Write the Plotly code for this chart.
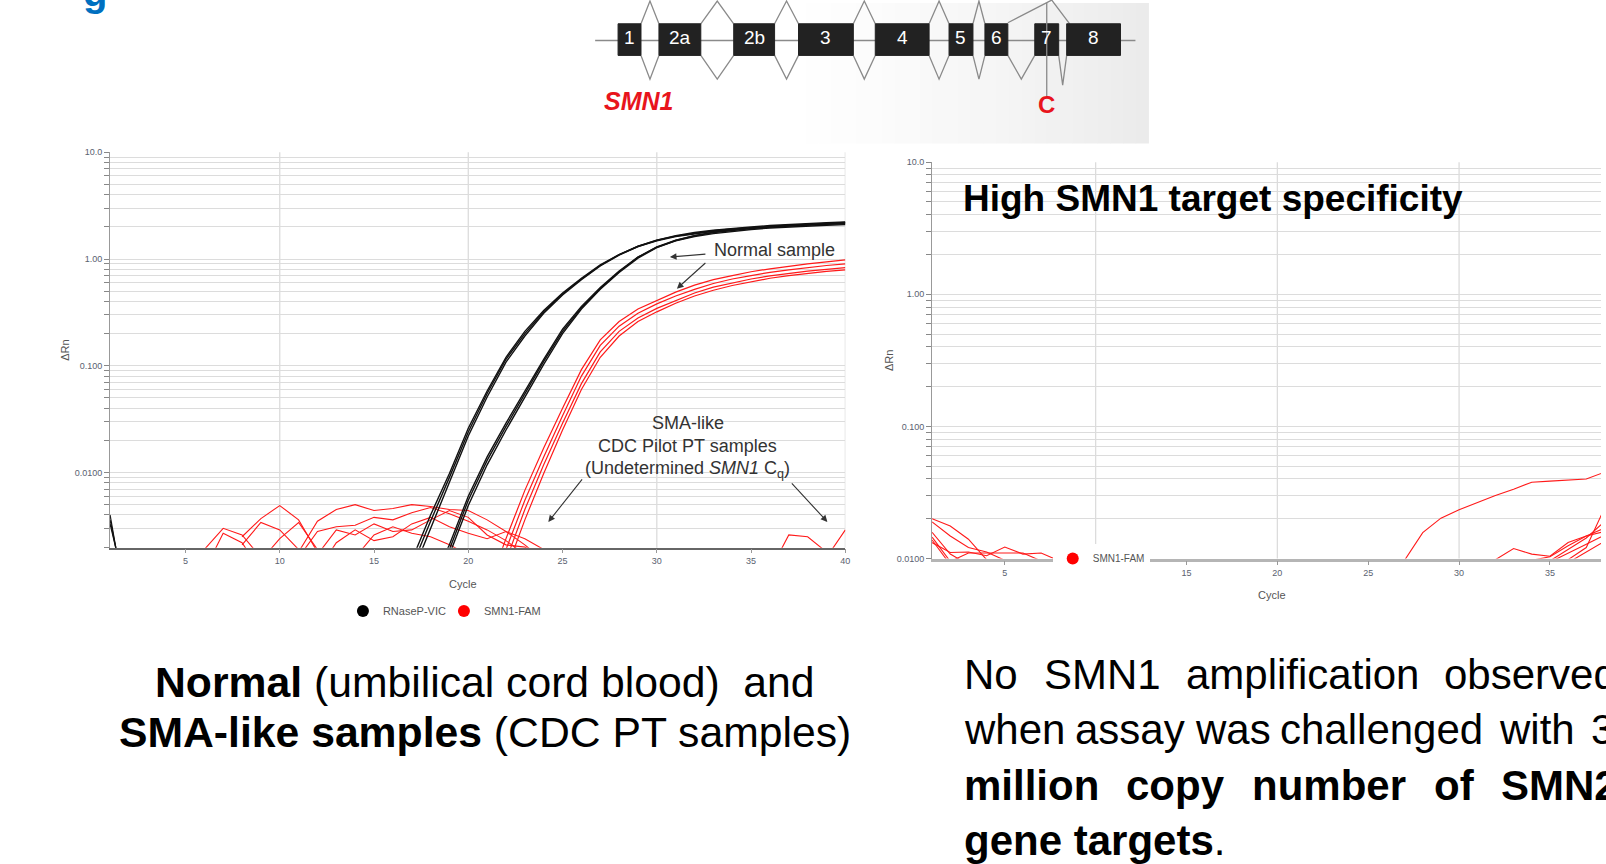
import plotly.graph_objects as go

W, H = 1606, 864
def PX(x): return x / W
def PY(y): return 1 - y / H

FONT = "Arial, Liberation Sans, sans-serif"

# ---------------- data ----------------
CYCLES = list(range(1, 41))

# RNaseP-VIC (black) – left panel, (start cycle, values)
RNASEP_EARLY = [(1, [0.0040, 0.0004]), (1, [0.0036, 0.0005]), (1, [0.0033, 0.0006])]
RNASEP_A1 = (17, [0.0013, 0.0035, 0.009, 0.024, 0.055, 0.115, 0.2, 0.32, 0.47, 0.65, 0.87, 1.1, 1.32, 1.5, 1.64, 1.75, 1.84, 1.91, 1.97, 2.02, 2.07, 2.11, 2.15, 2.19])
RNASEP_A2 = (17, [0.0011, 0.003, 0.0082, 0.022, 0.051, 0.108, 0.19, 0.31, 0.46, 0.64, 0.86, 1.09, 1.31, 1.5, 1.65, 1.77, 1.86, 1.94, 2.0, 2.06, 2.11, 2.15, 2.19, 2.23])
RNASEP_A3 = (17, [0.0015, 0.004, 0.0098, 0.026, 0.058, 0.12, 0.21, 0.33, 0.48, 0.66, 0.88, 1.1, 1.31, 1.48, 1.62, 1.73, 1.82, 1.89, 1.95, 2.0, 2.05, 2.09, 2.13, 2.17])
RNASEP_B1 = (18, [0.0008, 0.0019, 0.0055, 0.013, 0.027, 0.055, 0.11, 0.21, 0.35, 0.53, 0.76, 1.04, 1.3, 1.5, 1.65, 1.77, 1.86, 1.93, 1.99, 2.04, 2.08, 2.11, 2.14])
RNASEP_B2 = (18, [0.0007, 0.0017, 0.0049, 0.0118, 0.025, 0.051, 0.103, 0.2, 0.34, 0.52, 0.75, 1.02, 1.28, 1.49, 1.65, 1.78, 1.88, 1.96, 2.02, 2.07, 2.12, 2.16, 2.2])
RNASEP_B3 = (18, [0.0009, 0.0021, 0.006, 0.014, 0.029, 0.058, 0.115, 0.22, 0.36, 0.54, 0.77, 1.04, 1.29, 1.48, 1.62, 1.73, 1.82, 1.89, 1.95, 2.0, 2.04, 2.07, 2.1])

# SMN1-FAM (red) – left panel amplification
SMN1_AMP = [
    (21, [0.0008, 0.0024, 0.0068, 0.017, 0.04, 0.092, 0.175, 0.26, 0.34, 0.41, 0.49, 0.57, 0.64, 0.7, 0.76, 0.81, 0.86, 0.9, 0.94, 0.98]),
    (21, [0.0006, 0.0019, 0.0055, 0.014, 0.034, 0.08, 0.155, 0.235, 0.31, 0.38, 0.45, 0.52, 0.59, 0.65, 0.7, 0.75, 0.79, 0.83, 0.87, 0.9]),
    (21, [0.0005, 0.0015, 0.0045, 0.0118, 0.029, 0.068, 0.135, 0.21, 0.28, 0.345, 0.41, 0.48, 0.545, 0.6, 0.65, 0.695, 0.735, 0.77, 0.8, 0.83]),
    (21, [0.0004, 0.0012, 0.0036, 0.0098, 0.025, 0.06, 0.12, 0.19, 0.26, 0.32, 0.385, 0.45, 0.51, 0.565, 0.615, 0.66, 0.7, 0.735, 0.765, 0.79]),
]
# SMN1-FAM (red) – left panel baseline noise
SMN1_NOISE = [
    (6, [0.0019, 0.003, 0.0026, 0.0016]),
    (6, [0.0012, 0.0027, 0.0022, 0.0012]),
    (8, [0.0025, 0.0037, 0.0049, 0.0036, 0.0018]),
    (8, [0.0021, 0.0034, 0.0029, 0.0019]),
    (9, [0.0015, 0.0024, 0.0034, 0.0019]),
    (11, [0.0018, 0.0035, 0.0045, 0.005, 0.0044, 0.0046, 0.005, 0.0048, 0.0045, 0.0044, 0.0036, 0.0028, 0.0024, 0.0019]),
    (11, [0.0016, 0.0028, 0.0031, 0.0032, 0.0038, 0.0036, 0.0042, 0.0047, 0.0041, 0.0035, 0.0029, 0.0023, 0.0017]),
    (12, [0.0017, 0.0029, 0.0026, 0.0033, 0.0028, 0.0029, 0.0036, 0.0044, 0.0038, 0.0026, 0.0021, 0.002, 0.0016]),
    (12, [0.0012, 0.0022, 0.0029, 0.0023, 0.0025, 0.0033, 0.0038, 0.0031, 0.0027, 0.0024, 0.0028, 0.0021, 0.0015]),
    (14, [0.0016, 0.0026, 0.0031, 0.0027, 0.0025, 0.0021, 0.0017]),
    (36, [0.0012, 0.0026, 0.0025, 0.0018]),
    (38, [0.0012, 0.0016, 0.0029]),
]
# SMN1-FAM (red) – right panel (SMN2 challenge)
SPEC_CURVES = [
    (1, [0.02, 0.0176, 0.014, 0.0098]),
    (1, [0.0189, 0.0148, 0.0121, 0.0112, 0.0097]),
    (1, [0.0158, 0.0108, 0.009]),
    (1, [0.0145, 0.0095]),
    (1, [0.0138, 0.009]),
    (1, [0.0132, 0.0111, 0.0112, 0.0105, 0.0122, 0.0108, 0.011, 0.0096]),
    (2, [0.0095, 0.011, 0.011, 0.011, 0.011, 0.0096]),
    (26, [0.007, 0.0097, 0.0157, 0.0202, 0.0234, 0.0265, 0.030, 0.0335, 0.0378, 0.0385, 0.0395, 0.040, 0.045, 0.05, 0.055]),
    (32, [0.0098, 0.0119, 0.0108, 0.0104, 0.0132, 0.0148, 0.016, 0.018, 0.02]),
    (34, [0.0097, 0.0103, 0.0125, 0.0148, 0.017, 0.019, 0.022]),
    (35, [0.0096, 0.0117, 0.0143, 0.019, 0.024, 0.028]),
    (35, [0.0094, 0.0109, 0.0128, 0.015, 0.017, 0.019]),
    (36, [0.0098, 0.0121, 0.024, 0.03, 0.036]),
    (36, [0.0093, 0.0112, 0.0135, 0.016, 0.018]),
]

X_TICKS_LEFT = [5, 10, 15, 20, 25, 30, 35, 40]
X_TICKS_RIGHT = [5, 15, 20, 25, 30, 35]   # "10" hidden behind the legend
X_GRID = [10, 20, 30, 40]
Y_DECADE_LABELS = {0.01: "0.0100", 0.1: "0.100", 1.0: "1.00", 10.0: "10.0"}
SERIES_NAMES = ["RNaseP-VIC", "SMN1-FAM"]

EXON_LABELS = ["1", "2a", "2b", "3", "4", "5", "6", "7", "8"]

# ---------------- styles / layout constants ----------------
BLACK = "#111111"
RED = "#ff1a1a"
GRID = "#dcdcdc"
TICKC = "#5a6270"

EXON_PIX = [(620, 643), (661, 703), (736, 777), (801, 856), (878, 932),
            (952, 976), (988, 1011), (1038, 1062), (1070, 1124)]


def log_ticks(lo_exp, hi_exp):
    vals, text = [], []
    for e in range(lo_exp, hi_exp + 1):
        for m in range(1, 10):
            v = round(m * 10 ** e, 6)
            if e == hi_exp and m > 1:
                break
            vals.append(v)
            text.append(Y_DECADE_LABELS.get(v, ""))
    return vals, text


fig = go.Figure()


def add_curve(start, values, color, width, xa, ya):
    xs = CYCLES[start - 1: start - 1 + len(values)]
    fig.add_trace(go.Scatter(x=xs, y=values, mode="lines", xaxis=xa, yaxis=ya,
                             line=dict(color=color, width=width), showlegend=False,
                             hoverinfo="skip"))


for s, v in SMN1_NOISE:
    add_curve(s, v, RED, 1.1, "x", "y")
for s, v in RNASEP_EARLY:
    add_curve(s, v, BLACK, 1.2, "x", "y")
for s, v in [RNASEP_A1, RNASEP_A2, RNASEP_A3, RNASEP_B1, RNASEP_B2, RNASEP_B3]:
    add_curve(s, v, BLACK, 1.4, "x", "y")
for s, v in SMN1_AMP:
    add_curve(s, v, RED, 1.2, "x", "y")
for s, v in SPEC_CURVES:
    add_curve(s, v, RED, 1.1, "x2", "y2")

# legend entries
fig.add_trace(go.Scatter(x=[None], y=[None], mode="markers", name=SERIES_NAMES[0],
                         marker=dict(color="black", size=12), xaxis="x", yaxis="y", legend="legend"))
fig.add_trace(go.Scatter(x=[None], y=[None], mode="markers", name=SERIES_NAMES[1],
                         marker=dict(color="#ff0000", size=12), xaxis="x", yaxis="y", legend="legend"))
fig.add_trace(go.Scatter(x=[None], y=[None], mode="markers", name=SERIES_NAMES[1],
                         marker=dict(color="#ff0000", size=12), xaxis="x2", yaxis="y2", legend="legend2"))

yv_left, yt_left = log_ticks(-3, 1)
yv_left = yv_left[1:]  # start at 0.002
yt_left = yt_left[1:]
yv_right, yt_right = log_ticks(-2, 1)

xaxis_common = dict(showgrid=False, zeroline=False, ticks="outside", ticklen=4,
                    tickcolor="#999", tickfont=dict(size=9, color=TICKC, family=FONT),
                    showline=True)
yaxis_common = dict(type="log", showgrid=True, gridcolor=GRID, gridwidth=1.3,
                    zeroline=False, ticks="outside", ticklen=5, tickcolor="#888",
                    tickfont=dict(size=9, color=TICKC, family=FONT),
                    showline=True, linecolor="#999", linewidth=1)

fig.update_layout(
    width=W, height=H, margin=dict(l=0, r=0, t=0, b=0),
    paper_bgcolor="white", plot_bgcolor="rgba(0,0,0,0)",
    font=dict(family=FONT),
    xaxis=dict(domain=[PX(110.4), PX(848)], range=[1, 40], anchor="y", tickvals=X_TICKS_LEFT,
               linecolor="#666", linewidth=1.6, **xaxis_common),
    yaxis=dict(domain=[PY(549), PY(149)], range=[-2.704, 1], anchor="x",
               tickvals=yv_left, ticktext=yt_left, **yaxis_common),
    xaxis2=dict(domain=[PX(935), 1.0], range=[1, 37.81], anchor="y2", tickvals=X_TICKS_RIGHT,
                linecolor="#b5b5b5", linewidth=2.5, **xaxis_common),
    yaxis2=dict(domain=[PY(560), PY(159)], range=[-2, 1], anchor="x2",
                tickvals=yv_right, ticktext=yt_right, **yaxis_common),
    legend=dict(orientation="h", x=PX(344), y=PY(613), xanchor="left", yanchor="middle",
                font=dict(size=11, color="#555", family=FONT), bgcolor="rgba(0,0,0,0)",
                itemsizing="constant", itemwidth=30, entrywidth=56),
    legend2=dict(orientation="h", x=PX(1056), y=PY(560), xanchor="left", yanchor="middle",
                 font=dict(size=10, color="#555", family=FONT), bgcolor="white",
                 itemsizing="constant", itemwidth=30),
)

shapes = []
# vertical grid lines
for g in X_GRID:
    shapes.append(dict(type="line", xref="x", yref="y domain", x0=g, x1=g, y0=0, y1=1,
                       line=dict(color=GRID, width=1.3), layer="below"))
for g in X_GRID[:-1]:
    shapes.append(dict(type="line", xref="x2", yref="y2 domain", x0=g, x1=g, y0=0, y1=1,
                       line=dict(color=GRID, width=1.3), layer="below"))

# gradient panel behind gene diagram
N_STRIPS = 30
P0, P1 = 770, 1152
for i in range(N_STRIPS):
    t = i / (N_STRIPS - 1)
    c = int(round(255 - 20 * t ** 1.4))
    xa = P0 + (P1 - P0) * i / N_STRIPS
    xb = P0 + (P1 - P0) * (i + 1) / N_STRIPS + 0.5
    shapes.append(dict(type="rect", xref="paper", yref="paper", x0=PX(xa), x1=PX(xb),
                       y0=PY(140), y1=PY(-2), fillcolor=f"rgb({c},{c},{c})",
                       line=dict(width=0), layer="below"))

LINEC = "#8a8a8a"
# gene backbone
shapes.append(dict(type="line", xref="paper", yref="paper", x0=PX(597), x1=PX(1139),
                   y0=PY(36), y1=PY(36), line=dict(color=LINEC, width=1.5)))
# splicing lines (below and above)
for i in range(len(EXON_PIX) - 1):
    a = EXON_PIX[i][1]
    b = EXON_PIX[i + 1][0]
    m = (a + b) / 2
    depth = 81 if i == 7 else 75
    shapes.append(dict(type="path", xref="paper", yref="paper",
                       path=f"M {PX(a)} {PY(51)} L {PX(m)} {PY(depth)} L {PX(b)} {PY(51)}",
                       line=dict(color=LINEC, width=1.3)))
    if i < 6:
        shapes.append(dict(type="path", xref="paper", yref="paper",
                           path=f"M {PX(a)} {PY(19)} L {PX(m)} {PY(-4)} L {PX(b)} {PY(19)}",
                           line=dict(color=LINEC, width=1.3)))
# exon 7 skipping line (6 -> 8)
shapes.append(dict(type="path", xref="paper", yref="paper",
                   path=f"M {PX(1011)} {PY(18)} L {PX(1055)} {PY(-5)} L {PX(1073)} {PY(19)}",
                   line=dict(color=LINEC, width=1.3)))
# exons
for (a, b) in EXON_PIX:
    shapes.append(dict(type="rect", xref="paper", yref="paper", x0=PX(a), x1=PX(b),
                       y0=PY(51), y1=PY(19), fillcolor="#222222", line=dict(color="#222222", width=1)))
# C marker line
shapes.append(dict(type="line", xref="paper", yref="paper", x0=PX(1050), x1=PX(1050),
                   y0=PY(-2), y1=PY(92), line=dict(color=LINEC, width=1.3)))
fig.update_layout(shapes=shapes)

ann = []


def text(t, x, y, size, color="black", xa="center", ya="middle", angle=0):
    ann.append(dict(text=t, x=PX(x), y=PY(y), xref="paper", yref="paper", showarrow=False,
                    xanchor=xa, yanchor=ya, textangle=angle,
                    font=dict(size=size, color=color, family=FONT)))


for lab, (a, b) in zip(EXON_LABELS, EXON_PIX):
    text(lab, (a + b) / 2, 33, 19, "white")
text("<b><i>SMN1</i></b>", 640, 97, 25, "#e8141c")
text("<b>C</b>", 1050, 101, 24, "#e8141c")
# slide title fragment (only the descender is visible)
text("<b>g</b>", 81, -37, 40, "#0070c0", xa="left", ya="top")

# axis titles
text("Cycle", 464, 586, 11, "#555")
text("Cycle", 1276, 597, 11, "#555")
text("ΔRn", 65, 349, 11, "#555", angle=-90)
text("ΔRn", 892, 360, 11, "#555", angle=-90)

# chart annotations
text("Normal sample", 714, 248, 18, "#333", xa="left")
for t, y in [("SMA-like", 423), ("CDC Pilot PT samples", 446),
             ("(Undetermined <i>SMN1</i> C<sub>q</sub>)", 470)]:
    text(t, 690, y, 18, "#333")
for hx, hy, tx, ty in [(672, 255, 709, 252), (679, 287, 709, 260),
                       (550, 523, 585, 479), (830, 523, 793, 483)]:
    ann.append(dict(text="", x=PX(hx), y=PY(hy), xref="paper", yref="paper",
                    ax=tx - hx, ay=ty - hy, showarrow=True, arrowhead=2, arrowsize=1.2,
                    arrowwidth=1.1, arrowcolor="#333"))

text("<b>High SMN1 target specificity</b>", 964, 196, 37, xa="left")

# captions
text("<b>Normal</b> (umbilical cord blood)  and", 487, 685, 42.7)
text("<b>SMA-like samples</b> (CDC PT samples)", 487, 736, 42.7)

# justified paragraph (word left edges)
PARA = [
    (677, [("No", 965), ("SMN1", 1045), ("amplification", 1188), ("observed", 1447)]),
    (733, [("when", 965), ("assay", 1076), ("was", 1197), ("challenged", 1282), ("with", 1502), ("3", 1594)]),
    (790, [("<b>million</b>", 965), ("<b>copy</b>", 1128), ("<b>number</b>", 1254), ("<b>of</b>", 1436), ("<b>SMN2</b>", 1504)]),
    (845, [("<b>gene targets</b>.", 965)]),
]
for y, words in PARA:
    for w, x in words:
        text(w, x, y, 42, xa="left")

fig.update_layout(annotations=ann)
fig.write_html("out.html", config={"displayModeBar": False},
               post_script="document.body.style.margin='0';document.body.style.overflow='hidden';")
